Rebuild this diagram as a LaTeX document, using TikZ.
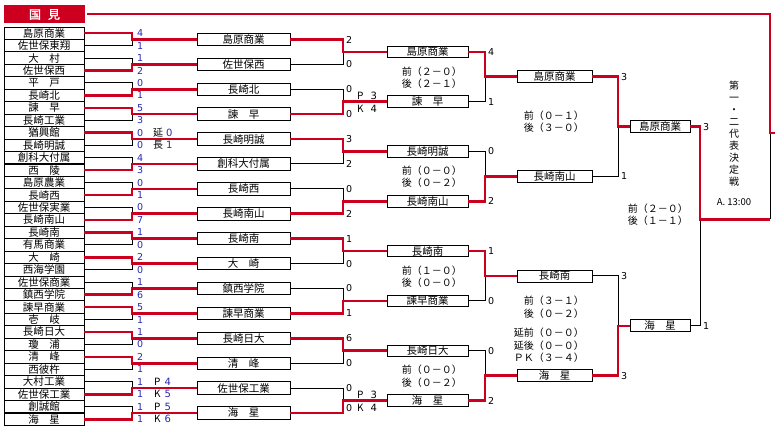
\documentclass[tikz,border=0pt]{standalone}
\usepackage{fontspec}
\setmainfont{Noto Sans CJK JP}[AutoFakeBold=2]
\newfontfamily\numfont{DejaVu Sans}
\definecolor{kred}{RGB}{204,0,30}
\definecolor{kblue}{RGB}{40,40,175}

\begin{document}
\begin{tikzpicture}[x=1pt,y=-1pt]
\tikzstyle{every node}+=[inner sep=0pt]
\tikzstyle{team}=[draw=black, fill=white, line width=0.9pt, minimum width=80pt, minimum height=12.45pt, font=\fontsize{10.5}{11}\selectfont]
\tikzstyle{box2}=[team, minimum width=93pt, minimum height=12.5pt]
\tikzstyle{box3}=[team, minimum width=81pt, minimum height=11.5pt]
\tikzstyle{box4}=[team, minimum width=75pt, minimum height=12pt]
\tikzstyle{box5}=[team, minimum width=60pt, minimum height=12pt]
\tikzstyle{won}=[kred, line width=2.6pt]
\tikzstyle{lost}=[black, line width=1pt]
\tikzstyle{pt1}=[anchor=west, text=kblue, font=\numfont\fontsize{9.5}{10}\selectfont]
\tikzstyle{pt}=[anchor=west, text=black, font=\numfont\fontsize{9.5}{10}\selectfont]
\tikzstyle{ext}=[anchor=west, font=\fontsize{10}{10}\selectfont]
\tikzstyle{res}=[anchor=east, font=\fontsize{10}{10}\selectfont]
\useasboundingbox (0,0) rectangle (776,430);

% header
\node[fill=kred, minimum width=81pt, minimum height=18pt, text=white, font=\fontsize{12}{12}\selectfont\bfseries] (hd) at (44.5,14.5) {国\hspace{7pt}見};

% first round
\node[team] (t1) at (44,33.2) {島原商業};
\node[team] (t2) at (44,45.7) {佐世保東翔};
\node[team] (t3) at (44,58.1) {大　村};
\node[team] (t4) at (44,70.6) {佐世保西};
\node[team] (t5) at (44,83.0) {平　戸};
\node[team] (t6) at (44,95.5) {長崎北};
\node[team] (t7) at (44,107.9) {諫　早};
\node[team] (t8) at (44,120.4) {長崎工業};
\node[team] (t9) at (44,132.8) {猶興館};
\node[team] (t10) at (44,145.3) {長崎明誠};
\node[team] (t11) at (44,157.7) {創科大付属};
\node[team] (t12) at (44,170.2) {西　陵};
\node[team] (t13) at (44,182.6) {島原農業};
\node[team] (t14) at (44,195.1) {長崎西};
\node[team] (t15) at (44,207.5) {佐世保実業};
\node[team] (t16) at (44,220.0) {長崎南山};
\node[team] (t17) at (44,232.4) {長崎南};
\node[team] (t18) at (44,244.9) {有馬商業};
\node[team] (t19) at (44,257.3) {大　崎};
\node[team] (t20) at (44,269.8) {西海学園};
\node[team] (t21) at (44,282.2) {佐世保商業};
\node[team] (t22) at (44,294.7) {鎮西学院};
\node[team] (t23) at (44,307.1) {諫早商業};
\node[team] (t24) at (44,319.6) {壱　岐};
\node[team] (t25) at (44,332.0) {長崎日大};
\node[team] (t26) at (44,344.5) {瓊　浦};
\node[team] (t27) at (44,356.9) {清　峰};
\node[team] (t28) at (44,369.4) {西彼杵};
\node[team] (t29) at (44,381.8) {大村工業};
\node[team] (t30) at (44,394.3) {佐世保工業};
\node[team] (t31) at (44,406.7) {創誠館};
\node[team] (t32) at (44,419.2) {海　星};

% second round
\node[box2] (s1) at (243.5,39.5) {島原商業};
\node[box2] (s2) at (243.5,64.4) {佐世保西};
\node[box2] (s3) at (243.5,89.3) {長崎北};
\node[box2] (s4) at (243.5,114.2) {諫　早};
\node[box2] (s5) at (243.5,139.1) {長崎明誠};
\node[box2] (s6) at (243.5,164.0) {創科大付属};
\node[box2] (s7) at (243.5,188.9) {長崎西};
\node[box2] (s8) at (243.5,213.8) {長崎南山};
\node[box2] (s9) at (243.5,238.7) {長崎南};
\node[box2] (s10) at (243.5,263.6) {大　崎};
\node[box2] (s11) at (243.5,288.5) {鎮西学院};
\node[box2] (s12) at (243.5,313.4) {諫早商業};
\node[box2] (s13) at (243.5,338.3) {長崎日大};
\node[box2] (s14) at (243.5,363.2) {清　峰};
\node[box2] (s15) at (243.5,388.1) {佐世保工業};
\node[box2] (s16) at (243.5,413.0) {海　星};

% third round
\node[box3] (u1) at (427.5,51.9) {島原商業};
\node[box3] (u2) at (427.5,101.7) {諫　早};
\node[box3] (u3) at (427.5,151.5) {長崎明誠};
\node[box3] (u4) at (427.5,201.3) {長崎南山};
\node[box3] (u5) at (427.5,251.1) {長崎南};
\node[box3] (u6) at (427.5,300.9) {諫早商業};
\node[box3] (u7) at (427.5,350.7) {長崎日大};
\node[box3] (u8) at (427.5,400.5) {海　星};

% fourth round and final
\node[box4] (v1) at (554.5,76.8) {島原商業};
\node[box4] (v2) at (554.5,176.4) {長崎南山};
\node[box4] (v3) at (554.5,276.0) {長崎南};
\node[box4] (v4) at (554.5,375.6) {海　星};
\node[box5] (w1) at (660,126.6) {島原商業};
\node[box5] (w2) at (660,325.8) {海　星};

% joints
\coordinate (a1) at (132,39.5);
\coordinate (a2) at (132,64.4);
\coordinate (a3) at (132,89.3);
\coordinate (a4) at (132,114.2);
\coordinate (a5) at (132,139.1);
\coordinate (a6) at (132,164.0);
\coordinate (a7) at (132,188.9);
\coordinate (a8) at (132,213.8);
\coordinate (a9) at (132,238.7);
\coordinate (a10) at (132,263.6);
\coordinate (a11) at (132,288.5);
\coordinate (a12) at (132,313.4);
\coordinate (a13) at (132,338.3);
\coordinate (a14) at (132,363.2);
\coordinate (a15) at (132,388.1);
\coordinate (a16) at (132,413.0);
\coordinate (b1) at (343,51.9);
\coordinate (b2) at (343,101.7);
\coordinate (b3) at (343,151.5);
\coordinate (b4) at (343,201.3);
\coordinate (b5) at (343,251.1);
\coordinate (b6) at (343,300.9);
\coordinate (b7) at (343,350.7);
\coordinate (b8) at (343,400.5);
\coordinate (c1) at (485,76.8);
\coordinate (c2) at (485,176.4);
\coordinate (c3) at (485,276.0);
\coordinate (c4) at (485,375.6);
\coordinate (d1) at (618,126.6);
\coordinate (d2) at (618,325.8);
\coordinate (e1) at (700,219.5);
\coordinate (f1) at (770,219.5);
\coordinate (f2) at (770,133);
\coordinate (f3) at (770,14.5);
\coordinate (f4) at (775,133);

% losers
\draw[lost] (t2.east) -| (a1);
\draw[lost] (t3.east) -| (a2);
\draw[lost] (t5.east) -| (a3);
\draw[lost] (t8.east) -| (a4);
\draw[lost] (t10.east) -| (a5);
\draw[lost] (t11.east) -| (a6);
\draw[lost] (t13.east) -| (a7);
\draw[lost] (t15.east) -| (a8);
\draw[lost] (t18.east) -| (a9);
\draw[lost] (t20.east) -| (a10);
\draw[lost] (t21.east) -| (a11);
\draw[lost] (t24.east) -| (a12);
\draw[lost] (t26.east) -| (a13);
\draw[lost] (t28.east) -| (a14);
\draw[lost] (t29.east) -| (a15);
\draw[lost] (t31.east) -| (a16);
\draw[lost] (s2.east) -| (b1);
\draw[lost] (s3.east) -| (b2);
\draw[lost] (s6.east) -| (b3);
\draw[lost] (s7.east) -| (b4);
\draw[lost] (s10.east) -| (b5);
\draw[lost] (s11.east) -| (b6);
\draw[lost] (s14.east) -| (b7);
\draw[lost] (s15.east) -| (b8);
\draw[lost] (u2.east) -| (c1);
\draw[lost] (u3.east) -| (c2);
\draw[lost] (u6.east) -| (c3);
\draw[lost] (u7.east) -| (c4);
\draw[lost] (v2.east) -| (d1);
\draw[lost] (v3.east) -| (d2);
\draw[lost] (w2.east) -| (e1);
\draw[lost] (f1) -- (f2);

% winners
\draw[won] (t1.east) -| (a1) -- (s1.west);
\draw[won] (t4.east) -| (a2) -- (s2.west);
\draw[won] (t6.east) -| (a3) -- (s3.west);
\draw[won] (t7.east) -| (a4) -- (s4.west);
\draw[won] (t9.east) -| (a5) -- (s5.west);
\draw[won] (t12.east) -| (a6) -- (s6.west);
\draw[won] (t14.east) -| (a7) -- (s7.west);
\draw[won] (t16.east) -| (a8) -- (s8.west);
\draw[won] (t17.east) -| (a9) -- (s9.west);
\draw[won] (t19.east) -| (a10) -- (s10.west);
\draw[won] (t22.east) -| (a11) -- (s11.west);
\draw[won] (t23.east) -| (a12) -- (s12.west);
\draw[won] (t25.east) -| (a13) -- (s13.west);
\draw[won] (t27.east) -| (a14) -- (s14.west);
\draw[won] (t30.east) -| (a15) -- (s15.west);
\draw[won] (t32.east) -| (a16) -- (s16.west);
\draw[won] (s1.east) -| (b1) -- (u1.west);
\draw[won] (s4.east) -| (b2) -- (u2.west);
\draw[won] (s5.east) -| (b3) -- (u3.west);
\draw[won] (s8.east) -| (b4) -- (u4.west);
\draw[won] (s9.east) -| (b5) -- (u5.west);
\draw[won] (s12.east) -| (b6) -- (u6.west);
\draw[won] (s13.east) -| (b7) -- (u7.west);
\draw[won] (s16.east) -| (b8) -- (u8.west);
\draw[won] (u1.east) -| (c1) -- (v1.west);
\draw[won] (u4.east) -| (c2) -- (v2.west);
\draw[won] (u5.east) -| (c3) -- (v3.west);
\draw[won] (u8.east) -| (c4) -- (v4.west);
\draw[won] (v1.east) -| (d1) -- (w1.west);
\draw[won] (v4.east) -| (d2) -- (w2.west);
\draw[won] (w1.east) -| (e1) -- (f1);
\draw[won, line width=2pt, shorten <=2pt] (hd.east) -- (f3) -- (f2) -- (f4);

% first round scores
\node[pt1] (p1) at (137,33.2) {4};
\node[pt1] (p2) at (137,45.7) {1};
\node[pt1] (p3) at (137,58.1) {1};
\node[pt1] (p4) at (137,70.6) {2};
\node[pt1] (p5) at (137,83.0) {0};
\node[pt1] (p6) at (137,95.5) {1};
\node[pt1] (p7) at (137,107.9) {5};
\node[pt1] (p8) at (137,120.4) {3};
\node[pt1] (p9) at (137,132.8) {0};
\node[pt1] (p10) at (137,145.3) {0};
\node[pt1] (p11) at (137,157.7) {4};
\node[pt1] (p12) at (137,170.2) {3};
\node[pt1] (p13) at (137,182.6) {0};
\node[pt1] (p14) at (137,195.1) {1};
\node[pt1] (p15) at (137,207.5) {0};
\node[pt1] (p16) at (137,220.0) {7};
\node[pt1] (p17) at (137,232.4) {1};
\node[pt1] (p18) at (137,244.9) {0};
\node[pt1] (p19) at (137,257.3) {2};
\node[pt1] (p20) at (137,269.8) {0};
\node[pt1] (p21) at (137,282.2) {1};
\node[pt1] (p22) at (137,294.7) {6};
\node[pt1] (p23) at (137,307.1) {5};
\node[pt1] (p24) at (137,319.6) {1};
\node[pt1] (p25) at (137,332.0) {1};
\node[pt1] (p26) at (137,344.5) {0};
\node[pt1] (p27) at (137,356.9) {2};
\node[pt1] (p28) at (137,369.4) {1};
\node[pt1] (p29) at (137,381.8) {1};
\node[pt1] (p30) at (137,394.3) {1};
\node[pt1] (p31) at (137,406.7) {1};
\node[pt1] (p32) at (137,419.2) {1};
\node[ext] (x1) at (153,132.8) {延\hspace{3pt}\textcolor{kblue}{\numfont 0}};
\node[ext] (x2) at (153,145.3) {長\hspace{3pt}\textcolor{kblue}{\numfont 1}};
\node[ext] (x3) at (154,381.8) {P\hspace{4pt}\textcolor{kblue}{\numfont 4}};
\node[ext] (x4) at (154,394.3) {K\hspace{4pt}\textcolor{kblue}{\numfont 5}};
\node[ext] (x5) at (154,406.7) {P\hspace{4pt}\textcolor{kblue}{\numfont 5}};
\node[ext] (x6) at (154,419.2) {K\hspace{4pt}\textcolor{kblue}{\numfont 6}};

% second round scores
\node[pt] (q1) at (346,39.5) {2};
\node[pt] (q2) at (346,64.4) {0};
\node[pt] (q3) at (346,89.3) {0};
\node[pt] (q4) at (346,114.2) {0};
\node[pt] (q5) at (346,139.1) {3};
\node[pt] (q6) at (346,164.0) {2};
\node[pt] (q7) at (346,188.9) {0};
\node[pt] (q8) at (346,213.8) {2};
\node[pt] (q9) at (346,238.7) {1};
\node[pt] (q10) at (346,263.6) {0};
\node[pt] (q11) at (346,288.5) {0};
\node[pt] (q12) at (346,313.4) {1};
\node[pt] (q13) at (346,338.3) {6};
\node[pt] (q14) at (346,363.2) {0};
\node[pt] (q15) at (346,388.1) {0};
\node[pt] (q16) at (346,408.0) {0};
\node[ext] (y1) at (357,96.0) {P\hspace{7pt}{\numfont 3}};
\node[ext] (y2) at (357,109.0) {K\hspace{7pt}{\numfont 4}};
\node[ext] (y3) at (357,394.5) {P\hspace{7pt}{\numfont 3}};
\node[ext] (y4) at (357,408.0) {K\hspace{7pt}{\numfont 4}};

% third, fourth and final scores
\node[pt] (r1) at (488,51.9) {4};
\node[pt] (r2) at (488,101.7) {1};
\node[pt] (r3) at (488,151.5) {0};
\node[pt] (r4) at (488,201.3) {2};
\node[pt] (r5) at (488,251.1) {1};
\node[pt] (r6) at (488,300.9) {0};
\node[pt] (r7) at (488,350.7) {0};
\node[pt] (r8) at (488,400.5) {2};
\node[pt] (o1) at (621,76.8) {3};
\node[pt] (o2) at (621,176.4) {1};
\node[pt] (o3) at (621,276.0) {3};
\node[pt] (o4) at (621,375.6) {3};
\node[pt] (z1) at (703,126.6) {3};
\node[pt] (z2) at (703,325.8) {1};

% half scores
\node[res] (g1) at (462,71.5) {前（２－０）};
\node[res] (g2) at (462,83.5) {後（２－１）};
\node[res] (g3) at (462,171.0) {前（０－０）};
\node[res] (g4) at (462,183.0) {後（０－２）};
\node[res] (g5) at (462,271.0) {前（１－０）};
\node[res] (g6) at (462,283.0) {後（０－０）};
\node[res] (g7) at (462,370.0) {前（０－０）};
\node[res] (g8) at (462,382.5) {後（０－２）};
\node[res] (g9) at (584,116.0) {前（０－１）};
\node[res] (g10) at (584,127.5) {後（３－０）};
\node[res] (g11) at (584,301.0) {前（３－１）};
\node[res] (g12) at (584,313.5) {後（０－２）};
\node[res] (g13) at (584,333.0) {延前（０－０）};
\node[res] (g14) at (584,345.5) {延後（０－０）};
\node[res] (g15) at (584,358.0) {ＰＫ（３－４）};
\node[res] (g16) at (688,209.0) {前（２－０）};
\node[res] (g17) at (688,221.0) {後（１－１）};

% right side
\node[align=center, font=\fontsize{10}{12}\selectfont] (vt) at (734,134) {第\\一\\・\\二\\代\\表\\決\\定\\戦};
\node[font=\fontsize{9.5}{10}\selectfont] (tm) at (734,202) {A.\ 13:00};
\end{tikzpicture}
\end{document}
